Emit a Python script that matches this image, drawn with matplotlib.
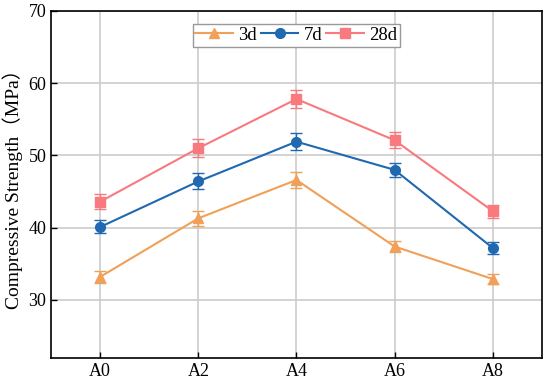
import matplotlib.pyplot as plt

plt.rcParams['font.family'] = ['Liberation Serif', 'Noto Sans CJK SC']

groups = ['A0', 'A2', 'A4', 'A6', 'A8']
strength_3d = [33.2, 41.3, 46.6, 37.4, 32.9]
strength_7d = [40.1, 46.4, 51.9, 48.0, 37.2]
strength_28d = [43.6, 51.0, 57.8, 52.1, 42.3]
err_3d = [0.8, 1.0, 1.1, 0.8, 0.7]
err_7d = [0.9, 1.1, 1.2, 1.0, 0.8]
err_28d = [1.0, 1.2, 1.3, 1.1, 0.9]

fig, ax = plt.subplots(figsize=(5.5, 3.86), dpi=100)
fig.subplots_adjust(left=0.093, right=0.985, top=0.972, bottom=0.073)

x = list(range(len(groups)))
series = [
    ('3d', strength_3d, err_3d, '#F0A058', '^'),
    ('7d', strength_7d, err_7d, '#2068B0', 'o'),
    ('28d', strength_28d, err_28d, '#F8797E', 's'),
]
handles = []
for label, vals, err, col, mk in series:
    c = ax.errorbar(x, vals, yerr=err, color=col, marker=mk, markersize=7,
                    linewidth=1.5, capsize=4, elinewidth=1, capthick=1,
                    ecolor=col, label=label, zorder=3)
    handles.append(c[0])

ax.set_xlim(-0.5, 4.5)
ax.set_ylim(22, 70)
ax.set_xticks(x)
ax.set_xticklabels(groups)
ax.set_yticks([30, 40, 50, 60, 70])
ax.grid(True, color='#CCCCCC', linewidth=1.2, zorder=0)
ax.set_axisbelow(True)
ax.tick_params(direction='in', length=4, width=1, labelsize=13)
for s in ax.spines.values():
    s.set_linewidth(1.2)
ax.set_ylabel('Compressive Strength（MPa）', fontsize=14)

ax.legend(handles=handles, labels=[s[0] for s in series], loc='upper center',
          ncol=3, fontsize=13.5, frameon=True, fancybox=False,
          edgecolor='#999999', framealpha=1, handlelength=2.0, columnspacing=0.2,
          handletextpad=0.3, borderpad=0.15, borderaxespad=0.7,
          bbox_to_anchor=(0.5, 1.0))

fig.savefig('out.png', dpi=100)
